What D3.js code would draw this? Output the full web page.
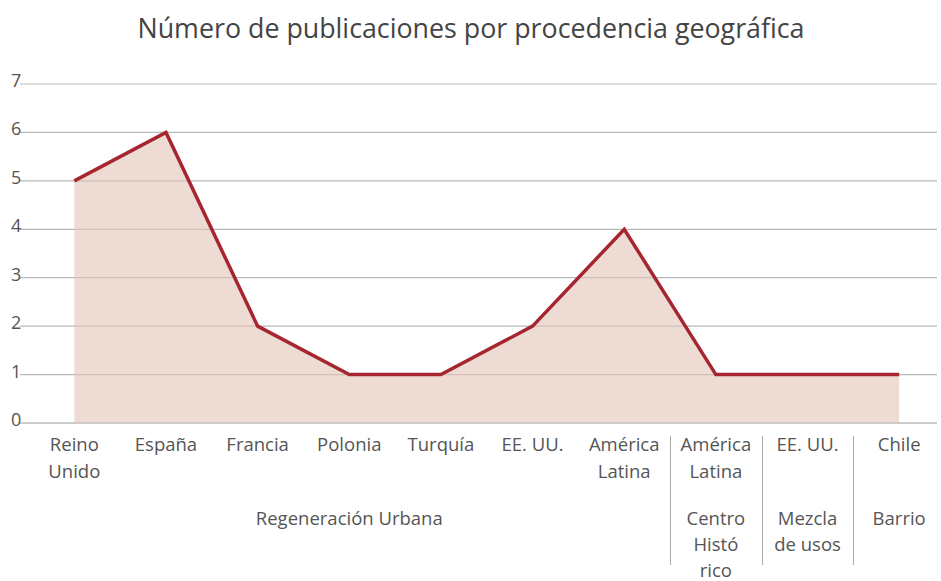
<!DOCTYPE html>
<html><head><meta charset="utf-8">
<script src="https://cdn.jsdelivr.net/npm/d3@7"></script>
<style>body{margin:0;background:#fff}svg{display:block}text{font-family:"Open Sans",sans-serif;fill:#555}</style>
</head><body><svg id="c" width="941" height="581"></svg>
<script>
const countries = ["Reino|Unido","España","Francia","Polonia","Turquía","EE. UU.","América|Latina","América|Latina","EE. UU.","Chile"];
const values = [5,6,2,1,1,2,4,1,1,1];
const groups = ["Regeneración Urbana","Centro|Histó|rico","Mezcla|de usos","Barrio"];
const groupStart = [0,7,8,9];
const groupEnd = [6,7,8,9];
const yTicks = [0,1,2,3,4,5,6,7];
const title = "Número de publicaciones por procedencia geográfica";

const svg = d3.select("#c");
const idx = d3.range(countries.length);
const x = d3.scaleBand().domain(idx).range([28.5, 945]);
const bw = x.bandwidth();
const cx = i => x(i) + bw/2;
const y = d3.scaleLinear().domain([0,7]).range([423,84]);

svg.append("text").attr("x",471).attr("y",38).attr("text-anchor","middle")
  .attr("font-size",26.8).style("fill","#444").text(title);

// gridlines
svg.append("g").selectAll("line").data(yTicks).join("line")
  .attr("x1",20).attr("x2",937).attr("y1",d=>y(d)).attr("y2",d=>y(d))
  .attr("stroke",d=>d===0?"#999":"#b8b8b8").attr("stroke-width",1.2);
svg.append("g").selectAll("text").data(yTicks).join("text")
  .attr("x",11).attr("y",d=>y(d)+3).attr("font-size",18).text(d=>d);

// area
const area = d3.area().x((d,i)=>cx(i)).y0(y(0)).y1(d=>y(d));
svg.append("path").datum(values).attr("d",area).attr("fill","#e3c3b8").attr("fill-opacity",0.6);
const line = d3.line().x((d,i)=>cx(i)).y(d=>y(d));
svg.append("path").datum(values).attr("d",line).attr("fill","none")
  .attr("stroke","#a62630").attr("stroke-width",3.5).attr("stroke-linejoin","miter");

// country labels
const lg = svg.append("g");
countries.forEach((c,i)=>{
  const t = lg.append("text").attr("text-anchor","middle").attr("font-size",18.5);
  c.split("|").forEach((s,k)=>t.append("tspan").attr("x",cx(i)).attr("y",451+k*27).text(s));
});
// group labels
groups.forEach((g,j)=>{
  const mid = (x(groupStart[j]) + x(groupEnd[j]) + bw)/2;
  const t = lg.append("text").attr("text-anchor","middle").attr("font-size",18.5);
  g.split("|").forEach((s,k)=>t.append("tspan").attr("x",mid).attr("y",525+k*26).text(s));
});
// separators
svg.append("g").selectAll("line").data(groupStart.slice(1)).join("line")
  .attr("x1",d=>Math.round(x(d))+0.5).attr("x2",d=>Math.round(x(d))+0.5)
  .attr("y1",436).attr("y2",565).attr("stroke","#aaa").attr("stroke-width",1);
</script></body></html>
